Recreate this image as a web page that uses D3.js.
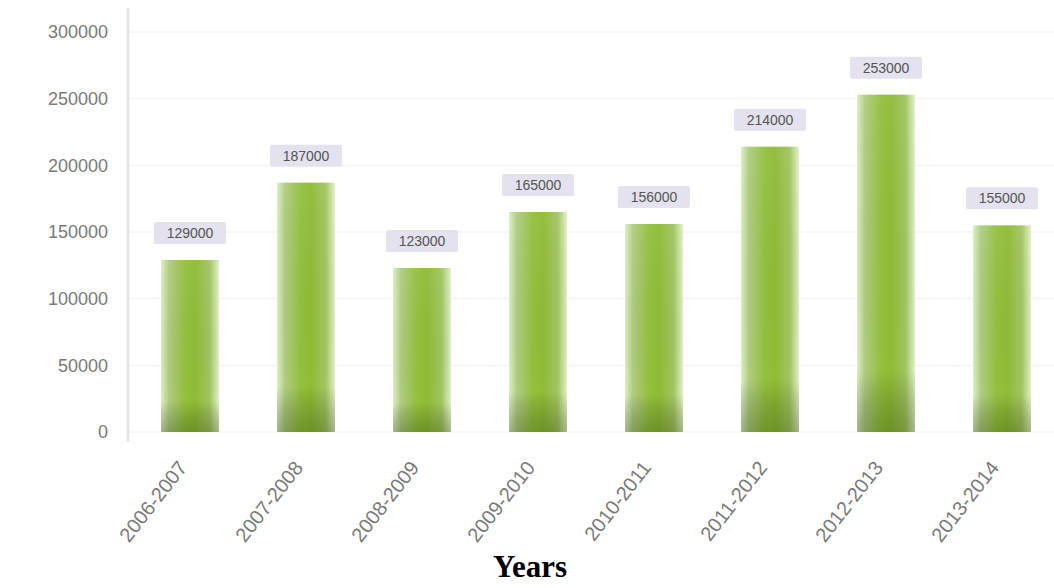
<!DOCTYPE html>
<html>
<head>
<meta charset="utf-8">
<script src="https://cdn.jsdelivr.net/npm/d3@7"></script>
<style>
  html, body { margin: 0; padding: 0; background: #fff; }
  svg { display: block; }
</style>
</head>
<body>
<svg id="chart" width="1054" height="588"></svg>
<script>
// Yearly totals shown as bars
const years = ["2006-2007", "2007-2008", "2008-2009", "2009-2010", "2010-2011", "2011-2012", "2012-2013", "2013-2014"];
const values = [129000, 187000, 123000, 165000, 156000, 214000, 253000, 155000];
const yTicks = [0, 50000, 100000, 150000, 200000, 250000, 300000];

const svg = d3.select("#chart");
const margin = { left: 128, top: 32 };
const W = 1054;

const x = d3.scaleBand().domain(years).range([margin.left + 4, 1060]).paddingInner(0.5).paddingOuter(0.25);
const y = d3.scaleLinear().domain([0, 300000]).range([432, margin.top]);

const defs = svg.append("defs");
const g1 = defs.append("linearGradient").attr("id", "barH").attr("x1", "0").attr("x2", "1").attr("y1", "0").attr("y2", "0");
[["0%", "#dcefc0"], ["14%", "#aecb80"], ["42%", "#93bf3a"], ["60%", "#8fbb36"], ["84%", "#a2c463"], ["100%", "#e0f1c6"]]
  .forEach(([o, c]) => g1.append("stop").attr("offset", o).attr("stop-color", c));
const g2 = defs.append("linearGradient").attr("id", "barShade").attr("x1", "0").attr("x2", "0").attr("y1", "0").attr("y2", "1");
[["0%", "#ffffff", 0.05], ["82%", "#000000", 0.0], ["100%", "#1f3300", 0.3]]
  .forEach(([o, c, a]) => g2.append("stop").attr("offset", o).attr("stop-color", c).attr("stop-opacity", a));

// gridlines
svg.append("g").selectAll("line").data(yTicks).join("line")
  .attr("x1", margin.left).attr("x2", W)
  .attr("y1", d => y(d)).attr("y2", d => y(d))
  .attr("stroke", "#f0eff7").attr("stroke-width", 1);

// left axis line
svg.append("line").attr("x1", margin.left).attr("x2", margin.left)
  .attr("y1", 8).attr("y2", 442).attr("stroke", "#e6e6e6").attr("stroke-width", 3);

// y axis labels
const yAxis = d3.axisLeft(y).tickValues(yTicks).tickSize(0).tickPadding(20).tickFormat(d3.format("d"));
const ya = svg.append("g").attr("transform", `translate(${margin.left},0)`).call(yAxis);
ya.select(".domain").remove();
ya.selectAll("text").attr("fill", "#7a7a7a").attr("font-size", 18).attr("font-family", "Liberation Sans, Arial, sans-serif");

// bars
const bars = svg.append("g");
bars.selectAll("rect.b").data(values).join("rect").attr("class", "b")
  .attr("x", (d, i) => x(years[i])).attr("width", x.bandwidth())
  .attr("y", d => y(d)).attr("height", d => y(0) - y(d))
  .attr("fill", "url(#barH)");
bars.selectAll("rect.s").data(values).join("rect").attr("class", "s")
  .attr("x", (d, i) => x(years[i])).attr("width", x.bandwidth())
  .attr("y", d => y(d)).attr("height", d => y(0) - y(d))
  .attr("fill", "url(#barShade)");

// value labels
const lbl = svg.append("g").selectAll("g").data(values).join("g")
  .attr("transform", (d, i) => `translate(${x(years[i]) + x.bandwidth() / 2},${y(d) - 27})`);
lbl.append("rect").attr("x", -36).attr("y", -11).attr("width", 72).attr("height", 22)
  .attr("fill", "#e4e2ee").attr("rx", 2);
lbl.append("text").attr("text-anchor", "middle").attr("dy", "0.35em")
  .attr("font-size", 14).attr("fill", "#555").attr("font-family", "Liberation Sans, Arial, sans-serif")
  .text(d => d);

// x axis labels
const xAxis = d3.axisBottom(x).tickSize(0).tickPadding(0);
const xa = svg.append("g").attr("transform", `translate(0,${y(0) + 30})`).call(xAxis);
xa.select(".domain").remove();
xa.selectAll("text")
  .attr("fill", "#7a7a7a").attr("font-size", 20).attr("font-family", "Liberation Sans, Arial, sans-serif")
  .attr("text-anchor", "end").attr("dx", "0").attr("dy", "0")
  .attr("transform", "translate(-2,6) rotate(-52)");

// axis title
svg.append("text").attr("x", 530).attr("y", 577).attr("text-anchor", "middle")
  .attr("font-family", "Liberation Serif, Times New Roman, serif").attr("font-weight", "bold")
  .attr("font-size", 31).attr("fill", "#000").text("Years");
</script>
</body>
</html>
